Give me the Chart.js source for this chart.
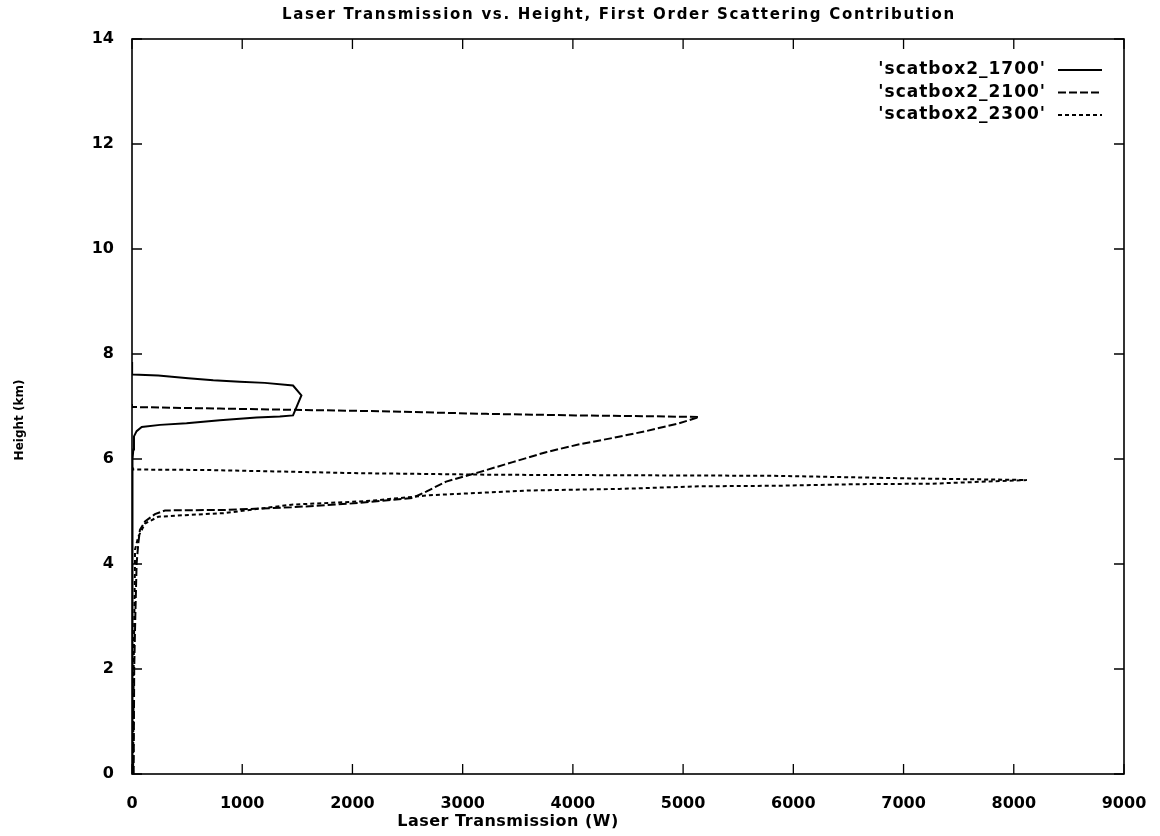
<!DOCTYPE html>
<html>
<head>
<meta charset="utf-8">
<script src="https://cdn.jsdelivr.net/npm/chart.js@4"></script>
<style>
  html, body { margin: 0; padding: 0; background: #fff; }
  #wrap { width: 1160px; height: 836px; }
</style>
</head>
<body>
<div id="wrap"><canvas id="chart"></canvas></div>
<script>
const chartTitle = 'Laser Transmission vs. Height, First Order Scattering Contribution';
const xTitle = 'Laser Transmission (W)';
const yTitle = 'Height (km)';
const seriesNames = ["'scatbox2_1700'", "'scatbox2_2100'", "'scatbox2_2300'"];
const xTicks = [0, 1000, 2000, 3000, 4000, 5000, 6000, 7000, 8000, 9000];
const yTicks = [0, 2, 4, 6, 8, 10, 12, 14];

// readings, walking each trace from the bottom up
const x1700 = [2, 3, 4, 6, 12, 18, 42, 88, 254, 495, 797, 1130, 1341, 1461, 1537, 1461, 1205, 978, 737, 510, 238, 5, 2, 0];
const y1700 = [0, 2, 4, 5.99, 6.18, 6.43, 6.53, 6.61, 6.65, 6.68, 6.74, 6.79, 6.81, 6.83, 7.21, 7.40, 7.45, 7.47, 7.50, 7.54, 7.59, 7.61, 7.80, 7.85];

const x2100 = [15, 20, 30, 42, 57, 72, 118, 208, 299, 842, 1447, 2050, 2548, 2669, 2850, 3152, 3454, 3756, 4058, 4360, 4662, 4964, 5145, 4843, 4028, 3213, 2246, 797, 0, 0];
const y2100 = [0, 2, 3, 4.01, 4.39, 4.65, 4.81, 4.95, 5.02, 5.03, 5.08, 5.16, 5.26, 5.38, 5.57, 5.75, 5.94, 6.13, 6.28, 6.40, 6.53, 6.68, 6.80, 6.81, 6.83, 6.86, 6.91, 6.96, 6.99, 7.1];

const x2300 = [10, 15, 27, 27, 57, 118, 238, 480, 842, 1447, 2050, 2246, 2699, 3605, 4420, 5145, 5839, 6563, 7258, 8119, 7077, 5809, 4541, 3273, 2050, 691, 12, 0];
const y2300 = [0, 2, 4.01, 4.27, 4.52, 4.77, 4.90, 4.93, 4.97, 5.13, 5.19, 5.22, 5.31, 5.40, 5.43, 5.48, 5.49, 5.52, 5.53, 5.60, 5.63, 5.68, 5.69, 5.70, 5.73, 5.79, 5.80, 5.85];

const toPoints = (xs, ys) => xs.map((x, i) => ({ x: x, y: ys[i] }));

// gnuplot style: frame on all sides, ticks pointing inward
const framePlugin = {
  id: 'frame',
  afterDatasetsDraw(chart) {
    const { ctx, chartArea: a, scales } = chart;
    ctx.save();
    ctx.strokeStyle = '#000';
    ctx.lineWidth = 1.6;
    ctx.strokeRect(a.left, a.top, a.right - a.left, a.bottom - a.top);
    ctx.lineWidth = 1.3;
    ctx.beginPath();
    scales.x.ticks.forEach(t => {
      const px = scales.x.getPixelForValue(t.value);
      ctx.moveTo(px, a.bottom); ctx.lineTo(px, a.bottom - 10);
      ctx.moveTo(px, a.top); ctx.lineTo(px, a.top + 10);
    });
    scales.y.ticks.forEach(t => {
      const py = scales.y.getPixelForValue(t.value);
      ctx.moveTo(a.left, py); ctx.lineTo(a.left + 10, py);
      ctx.moveTo(a.right, py); ctx.lineTo(a.right - 10, py);
    });
    ctx.stroke();
    ctx.restore();
  }
};

// titles and key drawn where the scan has them (off-centre, wide lettering)
const textPlugin = {
  id: 'texts',
  afterDraw(chart) {
    const ctx = chart.ctx;
    ctx.save();
    ctx.fillStyle = '#000';
    ctx.textBaseline = 'middle';

    ctx.textAlign = 'center';
    ctx.letterSpacing = '1.7px';
    ctx.font = 'bold 15px "DejaVu Sans"';
    ctx.fillText(chartTitle, 619, 15);

    ctx.letterSpacing = '0.5px';
    ctx.font = 'bold 16px "DejaVu Sans"';
    ctx.fillText(xTitle, 508, 822);

    ctx.letterSpacing = '0px';
    ctx.save();
    ctx.translate(20, 420);
    ctx.rotate(-Math.PI / 2);
    ctx.font = 'bold 12px "DejaVu Sans"';
    ctx.fillText(yTitle, 0, 0);
    ctx.restore();

    ctx.textAlign = 'right';
    ctx.letterSpacing = '1px';
    ctx.font = 'bold 17px "DejaVu Sans"';
    chart.data.datasets.forEach((ds, i) => {
      const y = 70 + i * 22.5;
      ctx.fillText(ds.label, 1046, y);
      ctx.strokeStyle = '#000';
      ctx.lineWidth = ds.borderWidth;
      ctx.setLineDash(ds.borderDash || []);
      ctx.beginPath();
      ctx.moveTo(1058, y);
      ctx.lineTo(1102, y);
      ctx.stroke();
    });
    ctx.restore();
  }
};

const tickFont = { family: 'DejaVu Sans', size: 16, weight: 'bold' };

const ctx = document.getElementById('chart').getContext('2d');
new Chart(ctx, {
  type: 'scatter',
  data: {
    datasets: [
      { label: seriesNames[0], data: toPoints(x1700, y1700), borderWidth: 2, borderDash: [] },
      { label: seriesNames[1], data: toPoints(x2100, y2100), borderWidth: 2, borderDash: [8, 3] },
      { label: seriesNames[2], data: toPoints(x2300, y2300), borderWidth: 2, borderDash: [4, 3] }
    ].map(d => Object.assign(d, {
      showLine: true, borderColor: '#000', backgroundColor: '#000',
      pointRadius: 0, tension: 0, fill: false
    }))
  },
  options: {
    responsive: true,
    maintainAspectRatio: false,
    animation: false,
    layout: { padding: { left: 0, right: 36, top: 39, bottom: 0 } },
    plugins: {
      legend: { display: false },
      tooltip: { enabled: false },
      title: { display: false }
    },
    scales: {
      x: {
        type: 'linear', min: 0, max: 9000,
        afterBuildTicks: s => { s.ticks = xTicks.map(v => ({ value: v })); },
        afterFit: s => { s.height = 62; s.paddingLeft = 0; s.paddingRight = 0; },
        grid: { display: false, drawTicks: false },
        border: { display: false },
        ticks: { color: '#000', padding: 20, maxRotation: 0, font: tickFont, callback: v => String(v) }
      },
      y: {
        type: 'linear', min: 0, max: 14,
        afterBuildTicks: s => { s.ticks = yTicks.map(v => ({ value: v })); },
        afterFit: s => { s.width = 132; },
        grid: { display: false, drawTicks: false },
        border: { display: false },
        ticks: { color: '#000', padding: 18, font: tickFont, callback: v => String(v) }
      }
    }
  },
  plugins: [framePlugin, textPlugin]
});
</script>
</body>
</html>
